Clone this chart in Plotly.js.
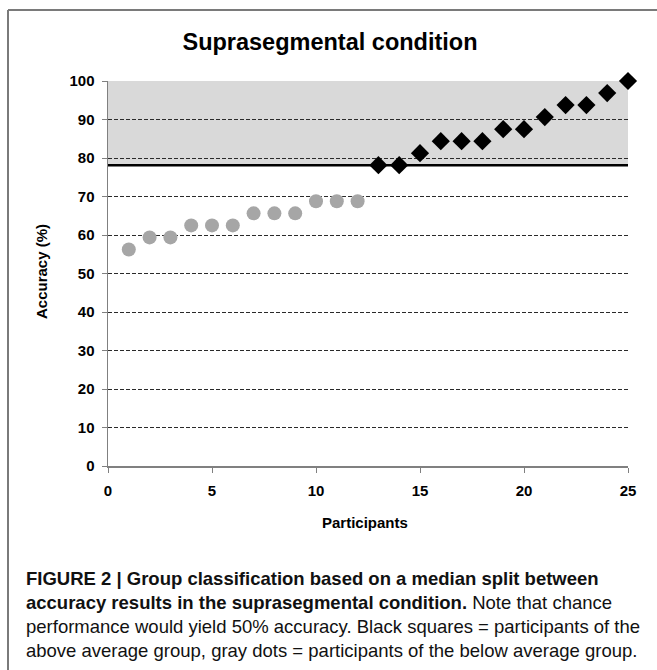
<!DOCTYPE html>
<html>
<head>
<meta charset="utf-8">
<script src="https://cdn.plot.ly/plotly-3.0.1.min.js"></script>
<style>html,body{margin:0;padding:0;background:#fff;}#chart{width:657px;height:670px;}</style>
</head>
<body>
<div id="chart"></div>
<script>
// Data
const belowParticipants = [1,2,3,4,5,6,7,8,9,10,11,12];
const belowAccuracy = [56.25,59.375,59.375,62.5,62.5,62.5,65.625,65.625,65.625,68.75,68.75,68.75];
const aboveParticipants = [13,14,15,16,17,18,19,20,21,22,23,24,25];
const aboveAccuracy = [78.125,78.125,81.25,84.375,84.375,84.375,87.5,87.5,90.625,93.75,93.75,96.875,100];
const medianValue = 78.125;
const xTicks = [0,5,10,15,20,25];
const yTicks = [0,10,20,30,40,50,60,70,80,90,100];
const titleText = "Suprasegmental condition";
const xTitle = "Participants";
const yTitle = "Accuracy (%)";
const captionLines = [
  "<b>FIGURE 2 | Group classification based on a median split between</b>",
  "<b>accuracy results in the suprasegmental condition.</b> Note that chance",
  "performance would yield 50% accuracy. Black squares = participants of the",
  "above average group, gray dots = participants of the below average group."
];

const W = 657, H = 670;
const L = 108, R = 29, T = 81, B = 204;
const pw = W - L - R, ph = H - T - B;
const px2x = px => (px - L) / pw;
const py2y = py => (H - B - py) / ph;

const traces = [
  {x: belowParticipants, y: belowAccuracy, type: 'scatter', mode: 'markers', cliponaxis: false,
   marker: {symbol: 'circle', size: 14, color: '#a6a6a6', line: {width: 0}}, hoverinfo: 'skip'},
  {x: aboveParticipants, y: aboveAccuracy, type: 'scatter', mode: 'markers', cliponaxis: false,
   marker: {symbol: 'diamond', size: 14, color: '#000000', line: {width: 0}}, hoverinfo: 'skip'}
];

const tickFont = {family: 'Liberation Sans, Arial, sans-serif', size: 15, color: '#000', weight: 'bold'};
const capFont = {family: 'Liberation Sans, Arial, sans-serif', size: 18.5, color: '#111'};

const annotations = [
  {text: '<b>' + xTitle + '</b>', xref: 'paper', yref: 'paper', x: px2x(365), y: py2y(522),
   showarrow: false, font: tickFont, xanchor: 'center', yanchor: 'middle'},
  {text: '<b>' + yTitle + '</b>', xref: 'paper', yref: 'paper', x: px2x(41), y: py2y(272),
   showarrow: false, font: tickFont, textangle: -90, xanchor: 'center', yanchor: 'middle'}
];
const capY = [578, 602, 626, 650];
captionLines.forEach((t, i) => {
  annotations.push({text: t, xref: 'paper', yref: 'paper', x: px2x(24), y: py2y(capY[i]),
    showarrow: false, font: capFont, xanchor: 'left', yanchor: 'middle', align: 'left'});
});

const shapes = [
  {type: 'rect', xref: 'x', yref: 'y', x0: 0, x1: 25.15, y0: medianValue, y1: 100,
   fillcolor: '#d9d9d9', line: {width: 0}, layer: 'below'},
  {type: 'line', xref: 'x', yref: 'y', x0: 0, x1: 25, y0: medianValue, y1: medianValue,
   line: {color: '#000', width: 2.5}, layer: 'below'},
  {type: 'line', xref: 'paper', yref: 'paper', x0: px2x(8), x1: px2x(660), y0: py2y(10), y1: py2y(10),
   line: {color: '#7a7a7a', width: 2}},
  {type: 'line', xref: 'paper', yref: 'paper', x0: px2x(8), x1: px2x(8), y0: py2y(10), y1: py2y(672),
   line: {color: '#7a7a7a', width: 2}}
];

const layout = {
  width: W, height: H,
  margin: {l: L, r: R, t: T, b: B, pad: 0},
  paper_bgcolor: '#fff', plot_bgcolor: 'rgba(0,0,0,0)',
  showlegend: false,
  title: {text: '<b>' + titleText + '</b>', x: 330 / W, xref: 'container', xanchor: 'center', y: 1 - 42 / H, yref: 'container', yanchor: 'middle',
          font: {family: 'Liberation Sans, Arial, sans-serif', size: 23.5, color: '#000', weight: 'bold'}},
  xaxis: {range: [0, 25], tickvals: xTicks, ticktext: xTicks.map(String), showgrid: false, zeroline: false,
          showline: true, linecolor: '#808080', linewidth: 1.5, ticks: 'outside', ticklen: 5, tickcolor: '#808080',
          tickfont: tickFont, ticklabelstandoff: 5, fixedrange: true},
  yaxis: {range: [0, 100], tickvals: yTicks, ticktext: yTicks.map(String), showgrid: true, gridcolor: '#2a2a2a', gridwidth: 1,
          griddash: '4px,2px', zeroline: false,
          showline: true, linecolor: '#808080', linewidth: 1.5, ticks: 'outside', ticklen: 5, tickcolor: '#808080',
          tickfont: tickFont, ticklabelstandoff: 4, fixedrange: true},
  yaxis2: {range: [0, 100], overlaying: 'y', side: 'left', tickvals: yTicks, showticklabels: false, showgrid: false,
           zeroline: false, showline: false, ticks: 'inside', ticklen: 5, tickcolor: '#808080', fixedrange: true},
  shapes: shapes,
  annotations: annotations
};

Plotly.newPlot('chart', traces, layout, {staticPlot: true, displayModeBar: false});
</script>
</body>
</html>
